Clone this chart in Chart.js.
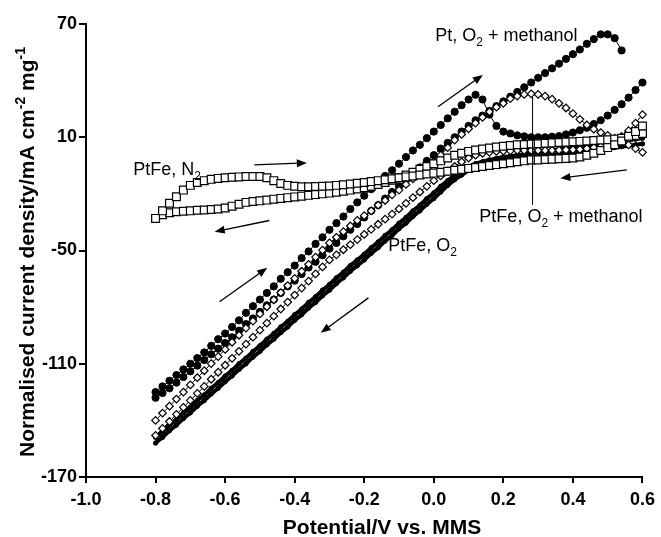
<!DOCTYPE html>
<html>
<head>
<meta charset="utf-8">
<script src="https://cdn.jsdelivr.net/npm/chart.js@4.4.1/dist/chart.umd.min.js"></script>
<style>
    html, body { margin: 0; padding: 0; background: #fff; }
    canvas { display: block; }
</style>
</head>
<body>
<canvas id="cvChart" width="661" height="537"></canvas>
<script>
// Potential sweep (V vs. MMS), one reading every 20 mV
const potential = [
    -0.80, -0.78, -0.76, -0.74, -0.72, -0.70, -0.68, -0.66, -0.64, -0.62,
    -0.60, -0.58, -0.56, -0.54, -0.52, -0.50, -0.48, -0.46, -0.44, -0.42,
    -0.40, -0.38, -0.36, -0.34, -0.32, -0.30, -0.28, -0.26, -0.24, -0.22,
    -0.20, -0.18, -0.16, -0.14, -0.12, -0.10, -0.08, -0.06, -0.04, -0.02,
    0.00, 0.02, 0.04, 0.06, 0.08, 0.10, 0.12, 0.14, 0.16, 0.18,
    0.20, 0.22, 0.24, 0.26, 0.28, 0.30, 0.32, 0.34, 0.36, 0.38,
    0.40, 0.42, 0.44, 0.46, 0.48, 0.50, 0.52, 0.54, 0.56, 0.58,
    0.60
];

// Pt, O2 + methanol (filled circles)
const ptMethanolFwd = [
    -128, -125.5, -123, -120, -117, -114, -111, -108, -105, -102,
    -99, -96, -92.5, -89, -86, -82.5, -79, -76, -72.5, -69,
    -66, -62.5, -59, -56, -52.5, -49, -46, -42.5, -39, -36,
    -32.5, -29, -26, -22.5, -19, -16, -12.5, -9, -6, -2.5,
    0.5, 4, 7, 10, 13, 16, 19, 21.5, 24, 26.5,
    29, 31.5, 34, 36.5, 39, 41.5, 44, 46.5, 49, 51.5,
    54, 56.5, 59.5, 62, 64.5, 64.5, 62.5, 56, null, null,
    null
];
const ptMethanolRev = [
    -125, -122, -119, -116, -113, -110, -107, -104, -100.5, -97,
    -94, -90.5, -87, -83, -79.5, -76, -72.5, -69, -65, -61.5,
    -58, -54, -50.5, -46.5, -43, -39, -35.5, -32, -28, -24.5,
    -21, -17.5, -14, -10.5, -7.5, -4, -0.5, 3, 6, 9.5,
    13, 16.5, 20, 23.5, 27, 30, 32.5, 30, 22, 16,
    13, 12, 11, 10.5, 10, 10, 10, 10.3, 10.6, 11.5,
    12.5, 13.7, 15, 17, 19, 21.5, 24.5, 27.5, 31, 35,
    39
];

// PtFe, O2 + methanol (open diamonds)
const ptfeMethanolFwd = [
    -140, -136.2, -132.5, -128.7, -125, -121.2, -117.4, -113.7, -109.9, -106.2,
    -102.4, -98.6, -94.9, -91.1, -87.4, -83.6, -79.8, -76.1, -72.3, -68.6,
    -64.8, -61, -57.3, -53.5, -49.8, -46, -43, -40, -37, -34,
    -31.5, -29, -26, -23.5, -20.5, -18, -15, -12, -9, -6,
    -3, 0.5, 4.5, 8.5, 11.5, 14.5, 17.5, 20.5, 23.5, 26,
    28, 30.5, 31.8, 32.7, 33, 32.7, 31.8, 30.2, 28, 25.5,
    22.5, 19.5, 16.5, 14.3, 12.5, 11, 9.5, 8, 6, 4,
    2
];
const ptfeMethanolRev = [
    -148, -144.3, -140.6, -136.8, -133.1, -129.4, -125.7, -122, -118.2, -114.5,
    -110.8, -107.1, -103.4, -99.6, -95.9, -92.2, -88.5, -84.8, -81, -77.3,
    -73.6, -69.9, -66.2, -62.4, -58.7, -55, -52.3, -49.6, -46.9, -44.2,
    -41.5, -38.8, -36.1, -33.4, -30.7, -28, -25, -22, -19, -16,
    -13, -10.5, -8, -5.5, -3, -1, 0.5, 1.5, 2, 2.5,
    2.7, 2.8, 3, 3, 3, 3, 3, 3.1, 3.2, 3.3,
    3.4, 3.6, 4, 4.5, 5.2, 6.3, 8, 10.5, 13.5, 17.5,
    22
];

// PtFe, O2 (small dense dots)
const ptfeOxygenFwd = [
    -152, -149, -145.5, -142.5, -139, -136, -132.5, -129.5, -126, -123,
    -119.5, -116.5, -113, -110, -106.5, -103.5, -100, -97, -93.5, -90.5,
    -87, -84, -80.5, -77.5, -74, -71, -67.5, -64.5, -61, -58,
    -55, -51.5, -48.5, -45, -42, -38.5, -35.5, -32, -29, -25.5,
    -22.5, -19, -15.5, -12.5, -10, -7.5, -6, -4.8, -3.8, -3,
    -2.3, -1.8, -1.3, -0.9, -0.5, 0, 0.4, 0.8, 1.2, 1.6,
    2, 2.4, 2.8, 3.2, 3.6, 4, 4.5, 5, 5.5, 6,
    6.5
];
const ptfeOxygenRev = [
    -149, -146, -142.5, -139.5, -136, -133, -129.5, -126.5, -123, -120,
    -116.5, -113.5, -110, -107, -103.5, -100.5, -97, -94, -90.5, -87.5,
    -84, -81, -77.5, -74.5, -71, -68, -64.5, -61.5, -58, -55,
    -52, -48.5, -45.5, -42, -39, -35.5, -32.5, -29, -26, -22.5,
    -19.5, -16, -13, -10, -7.5, -5.5, -4, -3, -2, -1.2,
    -0.5, 0, 0.5, 1, 1.5, 2, 2.5, 3, 3.5, 4,
    4.5, 5, 5.5, 6, 6.5, 7, 7.5, 8, 8.5, 9,
    9.5
];

// PtFe, N2 (open squares)
const ptfeNitrogenFwd = [
    -33, -29, -25, -21.5, -18, -15.5, -14, -13, -12.3, -11.8,
    -11.5, -11.2, -11, -10.8, -10.8, -10.8, -11.5, -13, -14.5, -15.5,
    -16, -16.2, -16.2, -16.1, -16, -15.8, -15.5, -15.2, -14.8, -14.4,
    -14, -13.5, -13, -12.5, -12, -11.5, -11, -10.5, -10, -9.5,
    -9, -8.5, -8, -7.5, -7, -6.5, -6, -5.5, -5, -4.5,
    -4, -3.5, -3, -2.5, -2, -2, -1.8, -1.6, -1.4, -1.2,
    -1, -0.5, 0.5, 1.5, 3, 4.5, 6, 8, 10.5, 13,
    16
];
const ptfeNitrogenRev = [
    -33, -31, -30, -29.5, -29.2, -29, -28.7, -28.5, -28.3, -28,
    -27.5, -26.5, -25.5, -24.5, -24, -23.7, -23.3, -22.8, -22.4, -22,
    -21.6, -21.2, -20.8, -20.4, -20, -19.6, -19.1, -18.6, -18, -17.4,
    -16.8, -16, -15, -14, -12.8, -11.5, -10, -8.5, -7, -5.5,
    -4, -2.5, -1, 0.5, 1.5, 2.5, 3.2, 3.8, 4.3, 4.8,
    5.2, 5.6, 6, 6.2, 6.4, 6.6, 6.8, 7, 7.2, 7.4,
    7.6, 7.8, 8, 8.3, 8.5, 8.7, 9, 9.5, 10, 11,
    12
];

// Axis ticks
const xTicks = [-1.0, -0.8, -0.6, -0.4, -0.2, 0.0, 0.2, 0.4, 0.6];
const yTicks = [70, 10, -50, -110, -170];

// Scan-direction arrows [from V, from I, to V, to I]
const arrows = [
    [-0.516, -4.6, -0.365, -3.6],
    [-0.473, -34.1, -0.630, -40.0],
    [-0.616, -77.2, -0.479, -59.2],
    [-0.188, -75.1, -0.325, -93.6],
    [0.012, 26.2, 0.141, 43.0],
    [0.555, -7.3, 0.364, -11.7]
];
const pointerLine = [0.284, 31.5, 0.284, -25.8];

const curveLabels = [
    { parts: [['Pt, O', ''], ['2', 'sub'], [' + methanol', '']], x: 0.004, y: 61.0 },
    { parts: [['PtFe, N', ''], ['2', 'sub']], x: -0.864, y: -9.9 },
    { parts: [['PtFe, O', ''], ['2', 'sub'], [' + methanol', '']], x: 0.131, y: -34.7 },
    { parts: [['PtFe, O', ''], ['2', 'sub']], x: -0.131, y: -50.5 }
];

const FONT = '"Liberation Sans", Arial, Helvetica, sans-serif';
Chart.defaults.font.family = FONT;

const toPoints = (ys) => potential
    .map((v, i) => ({ x: v, y: ys[i] }))
    .filter(p => p.y !== null);

// Helper: tulis teks dengan subscript / superscript
const drawRich = (ctx, parts, x, y, size, weight) => {
    let cx = x;
    parts.forEach(([t, kind]) => {
        const s = kind === '' ? size : Math.round(size * 0.65);
        const dy = kind === 'sub' ? size * 0.28 : kind === 'sup' ? -size * 0.42 : 0;
        ctx.font = `${weight} ${s}px ${FONT}`;
        ctx.fillText(t, cx, y + dy);
        cx += ctx.measureText(t).width;
    });
    return cx - x;
};

const measureRich = (ctx, parts, size, weight) => {
    let w = 0;
    parts.forEach(([t, kind]) => {
        const s = kind === '' ? size : Math.round(size * 0.65);
        ctx.font = `${weight} ${s}px ${FONT}`;
        w += ctx.measureText(t).width;
    });
    return w;
};

const drawArrow = (ctx, x1, y1, x2, y2) => {
    const ang = Math.atan2(y2 - y1, x2 - x1);
    const head = 10, half = 4;
    ctx.lineWidth = 1.3;
    ctx.beginPath();
    ctx.moveTo(x1, y1);
    ctx.lineTo(x2 - head * 0.8 * Math.cos(ang), y2 - head * 0.8 * Math.sin(ang));
    ctx.stroke();
    ctx.beginPath();
    ctx.moveTo(x2, y2);
    ctx.lineTo(x2 - head * Math.cos(ang) + half * Math.sin(ang), y2 - head * Math.sin(ang) - half * Math.cos(ang));
    ctx.lineTo(x2 - head * Math.cos(ang) - half * Math.sin(ang), y2 - head * Math.sin(ang) + half * Math.cos(ang));
    ctx.closePath();
    ctx.fill();
};

const annotationPlugin = {
    id: 'cvAnnotations',
    afterDraw(chart) {
        const { ctx, scales: { x, y } } = chart;
        ctx.save();
        ctx.fillStyle = '#000';
        ctx.strokeStyle = '#000';

        arrows.forEach(a => drawArrow(ctx,
            x.getPixelForValue(a[0]), y.getPixelForValue(a[1]),
            x.getPixelForValue(a[2]), y.getPixelForValue(a[3])));

        ctx.lineWidth = 1;
        ctx.beginPath();
        ctx.moveTo(x.getPixelForValue(pointerLine[0]), y.getPixelForValue(pointerLine[1]));
        ctx.lineTo(x.getPixelForValue(pointerLine[2]), y.getPixelForValue(pointerLine[3]));
        ctx.stroke();

        ctx.textBaseline = 'alphabetic';
        ctx.textAlign = 'left';
        curveLabels.forEach(l => drawRich(ctx, l.parts,
            x.getPixelForValue(l.x), y.getPixelForValue(l.y), 18, 'normal'));

        // Judul sumbu X
        const xTitle = [['Potential/V vs. MMS', '']];
        const xw = measureRich(ctx, xTitle, 21, 'bold');
        drawRich(ctx, xTitle, 382 - xw / 2, 534, 21, 'bold');

        // Judul sumbu Y (rotated)
        const yTitle = [['Normalised current density/mA cm', ''], ['-2', 'sup'], [' mg', ''], ['-1', 'sup']];
        const yw = measureRich(ctx, yTitle, 21, 'bold');
        ctx.translate(34, 252);
        ctx.rotate(-Math.PI / 2);
        drawRich(ctx, yTitle, -yw / 2, 0, 21, 'bold');
        ctx.restore();
    }
};

const seriesStyle = {
    filled: { pointStyle: 'circle', pointRadius: 3.6, pointBackgroundColor: '#000', pointBorderColor: '#000', pointBorderWidth: 1, borderColor: '#000', borderWidth: 1 },
    diamond: { pointStyle: 'rectRot', pointRadius: 3.8, pointBackgroundColor: '#fff', pointBorderColor: '#000', pointBorderWidth: 1.2, borderColor: '#000', borderWidth: 1 },
    square: { pointStyle: 'rect', pointRadius: 5.5, pointBackgroundColor: '#fff', pointBorderColor: '#000', pointBorderWidth: 1.2, borderColor: '#000', borderWidth: 1 },
    dots: { pointStyle: 'circle', pointRadius: 2.2, pointBackgroundColor: '#000', pointBorderColor: '#000', pointBorderWidth: 1, borderColor: '#000', borderWidth: 4 }
};

const makeSet = (label, ys, style, order) => ({
    label: label,
    data: toPoints(ys),
    showLine: true,
    fill: false,
    clip: false,
    order: order,
    ...seriesStyle[style]
});

new Chart(document.getElementById('cvChart'), {
    type: 'scatter',
    data: {
        datasets: [
            makeSet('PtFe, O2 + methanol (fwd)', ptfeMethanolFwd, 'diamond', 1),
            makeSet('PtFe, O2 + methanol (rev)', ptfeMethanolRev, 'diamond', 1),
            makeSet('Pt, O2 + methanol (fwd)', ptMethanolFwd, 'filled', 2),
            makeSet('Pt, O2 + methanol (rev)', ptMethanolRev, 'filled', 2),
            makeSet('PtFe, N2 (fwd)', ptfeNitrogenFwd, 'square', 0),
            makeSet('PtFe, N2 (rev)', ptfeNitrogenRev, 'square', 0),
            makeSet('PtFe, O2 (fwd)', ptfeOxygenFwd, 'dots', 3),
            makeSet('PtFe, O2 (rev)', ptfeOxygenRev, 'dots', 3)
        ]
    },
    options: {
        responsive: false,
        animation: false,
        events: [],
        layout: { padding: { left: 0, right: 15, top: 24, bottom: 0 } },
        plugins: {
            legend: { display: false },
            tooltip: { enabled: false }
        },
        scales: {
            x: {
                type: 'linear',
                min: xTicks[0],
                max: xTicks[xTicks.length - 1],
                afterBuildTicks: (s) => { s.ticks = xTicks.map(v => ({ value: v })); },
                afterFit: (s) => { s.height = 60; },
                ticks: {
                    color: '#000',
                    padding: 6,
                    font: { size: 18, weight: 'bold' },
                    callback: (v) => (Math.abs(v) < 1e-9 ? 0 : v).toFixed(1)
                },
                grid: { drawOnChartArea: false, drawTicks: true, tickLength: 6, color: '#000', lineWidth: 2 },
                border: { display: true, color: '#000', width: 2 }
            },
            y: {
                type: 'linear',
                min: yTicks[yTicks.length - 1],
                max: yTicks[0],
                afterBuildTicks: (s) => { s.ticks = yTicks.map(v => ({ value: v })); },
                afterFit: (s) => { s.width = 86; },
                ticks: {
                    color: '#000',
                    padding: 2,
                    font: { size: 18, weight: 'bold' }
                },
                grid: { drawOnChartArea: false, drawTicks: true, tickLength: 7, color: '#000', lineWidth: 2 },
                border: { display: true, color: '#000', width: 2 }
            }
        }
    },
    plugins: [annotationPlugin]
});
</script>
</body>
</html>
